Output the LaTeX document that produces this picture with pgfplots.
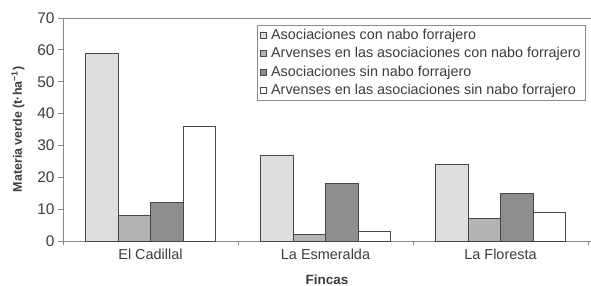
\documentclass[border=0pt]{standalone}
\usepackage{pgfplots}
\pgfplotsset{compat=1.18}
\usepackage{fontspec}
\setmainfont{Liberation Sans}
\definecolor{c1}{HTML}{DEDEDE}
\definecolor{c2}{HTML}{B3B3B3}
\definecolor{c3}{HTML}{8E8E8E}
\definecolor{edge}{HTML}{474747}
\definecolor{axgray}{HTML}{8A8A8A}
\definecolor{txt}{HTML}{3C3C3C}
\begin{document}
\begin{tikzpicture}
\useasboundingbox (-63bp,-45bp) rectangle (528bp,241bp);
\begin{axis}[
  name=ax, at={(0,0)}, anchor=south west,
  scale only axis, width=528bp, height=223bp,
  xmin=-0.5, xmax=2.517, ymin=0, ymax=70,
  ybar=0pt, bar width=0.186,
  xtick={0,1,2}, xticklabels={El Cadillal, La Esmeralda, La Floresta},
  minor xtick={-0.5,0.5,1.5,2.5},
  ytick={0,10,...,70},
  tick align=outside, major tick length=5bp, minor tick length=4bp,
  major x tick style={draw=none},
  tick style={axgray, line width=0.8pt},
  axis lines*=left, axis line style={axgray, line width=0.8pt, -},
  /pgf/number format/assume math mode=true,
  yticklabel style={font=\fontsize{15.5}{18}\selectfont, text=txt},
  xticklabel style={font=\fontsize{14.5}{17}\selectfont, text=txt},
  xlabel={Fincas},
  ylabel={Materia verde (t·ha\textsuperscript{−1})},
  ylabel style={at={(axis description cs:-0.085,0.5)}, anchor=center, rotate=0, font=\bfseries\fontsize{12.5}{14}\selectfont, text=txt},
  xlabel style={at={(axis description cs:0.5,0)}, anchor=north, yshift=-30bp, font=\bfseries\fontsize{13.5}{15}\selectfont, text=txt},
  legend style={at={(axis description cs:0.9905,0.969)}, anchor=north east, draw=axgray, font=\fontsize{14.4}{16}\selectfont, text=txt, row sep=2.4bp, inner xsep=3bp, inner ysep=2bp, line width=0.8pt},
  legend cell align=left,
  legend image code/.code={\draw[#1, line width=0.6pt] (0bp,-3bp) rectangle (6bp,3bp); \path (8bp,0bp);},
]
\addplot[fill=c1, draw=edge, line width=0.8pt] coordinates {(0,59) (1,27) (2,24)};
\addplot[fill=c2, draw=edge, line width=0.8pt] coordinates {(0,8) (1,2) (2,7)};
\addplot[fill=c3, draw=edge, line width=0.8pt] coordinates {(0,12) (1,18) (2,15)};
\addplot[fill=white, draw=edge, line width=0.8pt] coordinates {(0,36) (1,3) (2,9)};
\legend{Asociaciones con nabo forrajero, Arvenses en las asociaciones con nabo forrajero, Asociaciones sin nabo forrajero, Arvenses en las asociaciones sin nabo forrajero}
\end{axis}
\draw[axgray, line width=0.8pt] (ax.north west) -- (ax.north east);
\end{tikzpicture}
\end{document}
